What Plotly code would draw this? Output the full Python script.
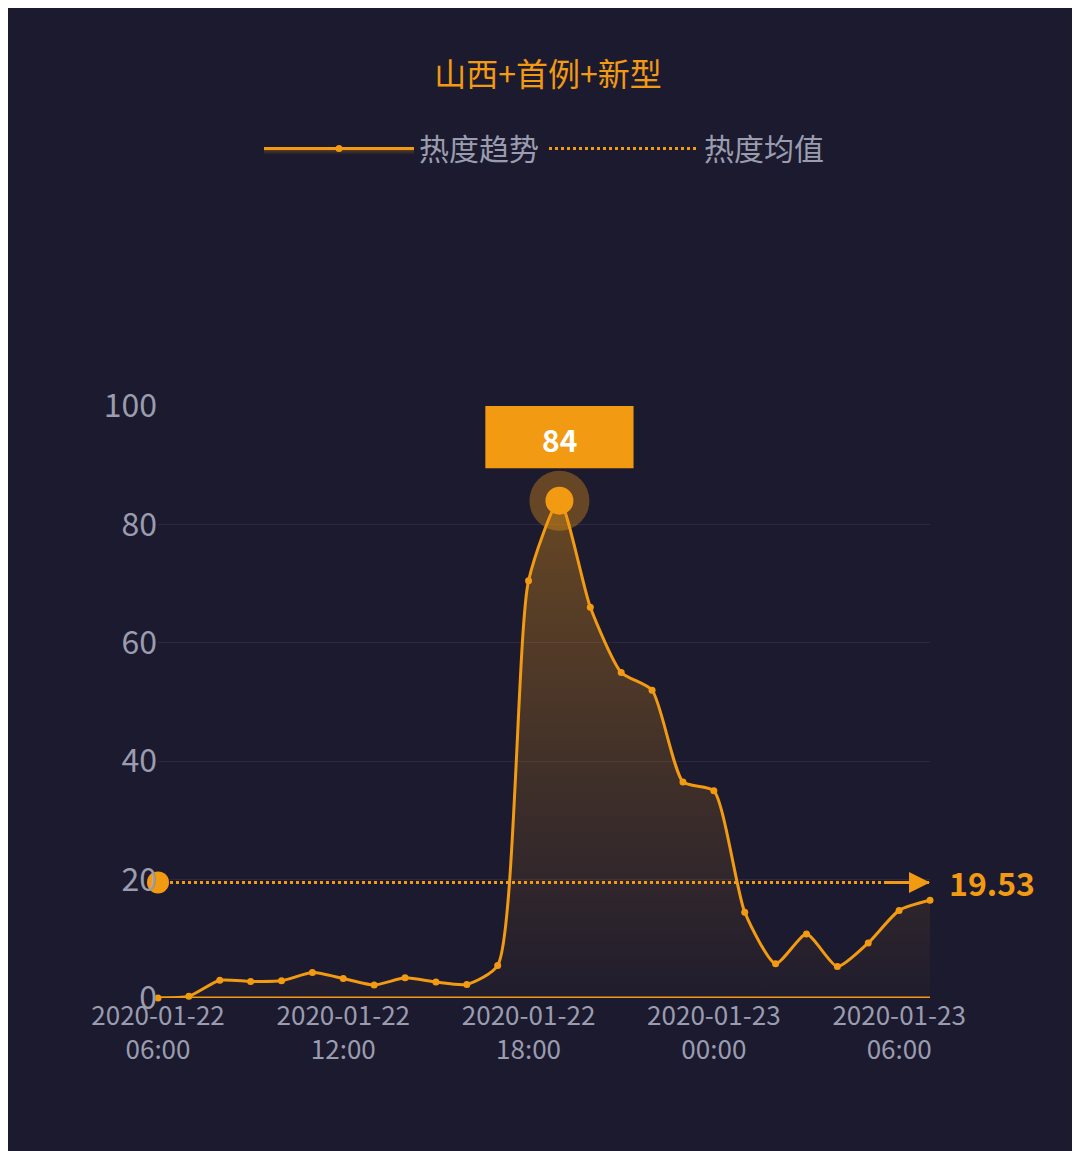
import pandas as pd
import plotly.graph_objects as go

# hourly heat values, 2020-01-22 06:00 .. 2020-01-23 07:00
times = pd.date_range("2020-01-22 06:00", periods=26, freq="h")
heat = [0, 0.3, 3, 2.8, 2.9, 4.3, 3.3, 2.2, 3.4, 2.7, 2.3, 5.5, 70.5, 84,
        66, 55, 52, 36.5, 35, 14.5, 5.8, 10.8, 5.3, 9.3, 14.8, 16.5]
mean_val = 19.53
peak_idx = 13

orange = "#f29a12"
bg = "#1c1a2e"
grey = "#9a9cb0"

fig = go.Figure()
fig.add_trace(go.Scatter(
    x=times, y=heat, mode="lines+markers", name="热度趋势",
    line=dict(color=orange, width=3, shape="spline", smoothing=0.6),
    marker=dict(size=7, color=orange),
    fill="tozeroy",
    fillgradient=dict(type="vertical",
                      colorscale=[[0, "rgba(242,154,18,0.02)"], [1, "rgba(242,154,18,0.35)"]]),
    cliponaxis=False,
))
fig.add_trace(go.Scatter(
    x=[times[0], times[-1]], y=[mean_val, mean_val], mode="lines", name="热度均值",
    line=dict(color=orange, width=3, dash="dot"), cliponaxis=False,
))
fig.add_trace(go.Scatter(
    x=[times[0]], y=[mean_val], mode="markers", showlegend=False,
    marker=dict(size=22, color=orange), cliponaxis=False,
))
fig.add_trace(go.Scatter(
    x=[times[peak_idx]], y=[heat[peak_idx]], mode="markers", showlegend=False,
    marker=dict(size=60, color="rgba(242,154,18,0.35)"), cliponaxis=False,
))
fig.add_trace(go.Scatter(
    x=[times[peak_idx]], y=[heat[peak_idx]], mode="markers", showlegend=False,
    marker=dict(size=28, color=orange), cliponaxis=False,
))

# arrow head at end of mean line
fig.add_annotation(x=times[-1], y=mean_val, ax=-45, ay=0, showarrow=True,
                   arrowhead=2, arrowsize=1.4, arrowwidth=3, arrowcolor=orange, text="")
fig.add_annotation(x=times[-1], y=mean_val, xshift=62, text="<b>19.53</b>", showarrow=False,
                   font=dict(color=orange, size=32))

# peak label box
fig.add_shape(type="rect", x0=times[peak_idx] - pd.Timedelta(hours=2.4),
              x1=times[peak_idx] + pd.Timedelta(hours=2.4), y0=89.5, y1=100,
              fillcolor=orange, line_width=0, layer="above")
fig.add_annotation(x=times[peak_idx], y=94.5, text="<b>%d</b>" % heat[peak_idx], showarrow=False,
                   font=dict(color="white", size=30))
fig.add_shape(type="line", x0=times[0], x1=times[-1], y0=0, y1=0,
              line=dict(color=orange, width=3))

tickvals = times[::6]
ticktext = [t.strftime("%Y-%m-%d") + "<br>" + t.strftime("%H:%M") for t in tickvals]

fig.update_layout(
    width=1080, height=1151, paper_bgcolor=bg, plot_bgcolor=bg,
    font=dict(family="Noto Sans CJK SC, Roboto", color=grey),
    margin=dict(l=150, r=158, t=398, b=161),
    title=dict(text="山西+首例+新型", x=0.5, xanchor="center", y=0.942, yanchor="middle",
               font=dict(color=orange, size=32)),
    legend=dict(orientation="h", x=0.5, xanchor="center", y=0.878, yref="container",
                yanchor="middle", font=dict(size=30, color=grey),
                itemwidth=150, bgcolor="rgba(0,0,0,0)"),
    xaxis=dict(range=[times[0], times[-1]], tickvals=tickvals, ticktext=ticktext,
               showgrid=False, zeroline=False, showline=False,
               tickfont=dict(size=26, color=grey)),
    yaxis=dict(range=[0, 100], tickvals=[0, 20, 40, 60, 80, 100], gridcolor="#2a2940",
               zeroline=False, tickfont=dict(size=32, color=grey), ticksuffix="  "),
)
fig.write_html("out.html")
